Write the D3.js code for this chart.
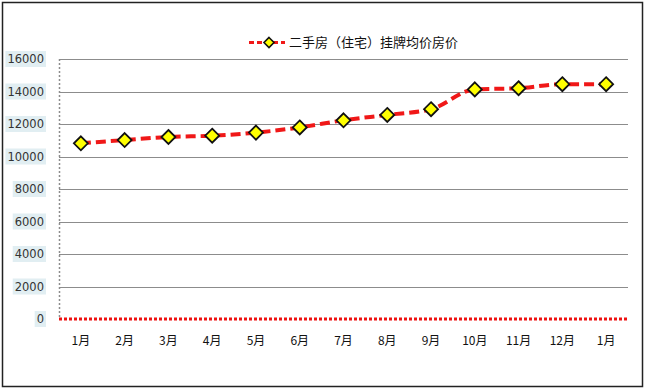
<!DOCTYPE html>
<html>
<head>
<meta charset="utf-8">
<script src="https://cdn.jsdelivr.net/npm/d3@7"></script>
<style>
  html, body { margin: 0; padding: 0; background: #fff; }
  svg { display: block; font-family: "Noto Sans CJK SC", "DejaVu Sans", sans-serif; }
</style>
</head>
<body>
<svg id="chart" width="646" height="389"></svg>
<script>
// data
const months = ['1月','2月','3月','4月','5月','6月','7月','8月','9月','10月','11月','12月','1月'];
const prices = [10810, 11010, 11200, 11280, 11470, 11790, 12230, 12560, 12910, 14130, 14200, 14450, 14450];
const yTicks = [0, 2000, 4000, 6000, 8000, 10000, 12000, 14000, 16000];
const seriesName = '二手房（住宅）挂牌均价房价';

const W = 646, H = 389;
const M = { left: 59, right: 18, top: 59, bottom: 70 };

const svg = d3.select('#chart');

// outer frame
svg.append('rect')
  .attr('x', 2.5).attr('y', 2.5)
  .attr('width', W - 6).attr('height', H - 5)
  .attr('fill', '#fff').attr('stroke', '#222').attr('stroke-width', 1.5);

const x = d3.scaleBand()
  .domain(d3.range(months.length))
  .range([M.left, W - M.right])
  .padding(0);

const y = d3.scaleLinear()
  .domain([0, 16000])
  .range([H - M.bottom, M.top]);

// gridlines
svg.append('g')
  .selectAll('line')
  .data(yTicks.filter(d => d > 0))
  .join('line')
    .attr('x1', M.left).attr('x2', W - M.right)
    .attr('y1', d => Math.round(y(d)) + 0.5)
    .attr('y2', d => Math.round(y(d)) + 0.5)
    .attr('stroke', '#8c8c8c').attr('stroke-width', 1);

// y axis (dotted gray)
svg.append('line')
  .attr('x1', M.left + 0.5).attr('x2', M.left + 0.5)
  .attr('y1', y(16000)).attr('y2', y(0))
  .attr('stroke', '#8c8c8c').attr('stroke-width', 1.5)
  .attr('stroke-dasharray', '2,2');

// zero line, red dotted
svg.append('line')
  .attr('x1', M.left).attr('x2', W - M.right)
  .attr('y1', y(0)).attr('y2', y(0))
  .attr('stroke', '#ee1111').attr('stroke-width', 3)
  .attr('stroke-dasharray', '3,2');

// y tick labels with pale blue backing
const yl = svg.append('g').selectAll('g')
  .data(yTicks)
  .join('g')
    .attr('transform', d => `translate(44,${y(d)})`);

yl.each(function(d){
  const g = d3.select(this);
  const t = g.append('text')
    .text(d)
    .attr('text-anchor', 'end')
    .attr('dy', '0.36em')
    .attr('font-family', 'DejaVu Sans, sans-serif')
    .attr('font-size', 11.5)
    .attr('fill', '#333');
  const b = t.node().getBBox();
  g.insert('rect', 'text')
    .attr('x', b.x - 2).attr('y', -8)
    .attr('width', b.width + 4).attr('height', 16)
    .attr('fill', '#e1eef2');
});

// x labels
svg.append('g').selectAll('text')
  .data(months)
  .join('text')
    .attr('x', (d, i) => x(i) + x.bandwidth() / 2)
    .attr('y', 345)
    .attr('text-anchor', 'middle')
    .attr('font-size', 12)
    .attr('fill', '#111')
    .text(d => d);

// series line
const line = d3.line()
  .x((d, i) => x(i) + x.bandwidth() / 2)
  .y(d => y(d))
  .curve(d3.curveMonotoneX);

svg.append('path')
  .datum(prices)
  .attr('d', line)
  .attr('fill', 'none')
  .attr('stroke', '#f01818')
  .attr('stroke-width', 4)
  .attr('stroke-dasharray', '10,5');

const diamond = s => `M0,${-s}L${s},0L0,${s}L${-s},0Z`;

svg.append('g').selectAll('path')
  .data(prices)
  .join('path')
    .attr('transform', (d, i) => `translate(${x(i) + x.bandwidth() / 2},${y(d)})`)
    .attr('d', diamond(7))
    .attr('fill', '#ffff00')
    .attr('stroke', '#111')
    .attr('stroke-width', 1.8);

// legend
const lg = svg.append('g').attr('transform', 'translate(249,42.5)');
lg.append('line')
  .attr('x1', 0).attr('x2', 36)
  .attr('stroke', '#f01818').attr('stroke-width', 3)
  .attr('stroke-dasharray', '5,3');
lg.append('path')
  .attr('transform', 'translate(20,0)')
  .attr('d', diamond(5))
  .attr('fill', '#ffff00').attr('stroke', '#111').attr('stroke-width', 1.6);
lg.append('text')
  .attr('x', 40).attr('dy', '0.36em')
  .attr('font-size', 13)
  .attr('fill', '#111')
  .text(seriesName);
</script>
</body>
</html>
